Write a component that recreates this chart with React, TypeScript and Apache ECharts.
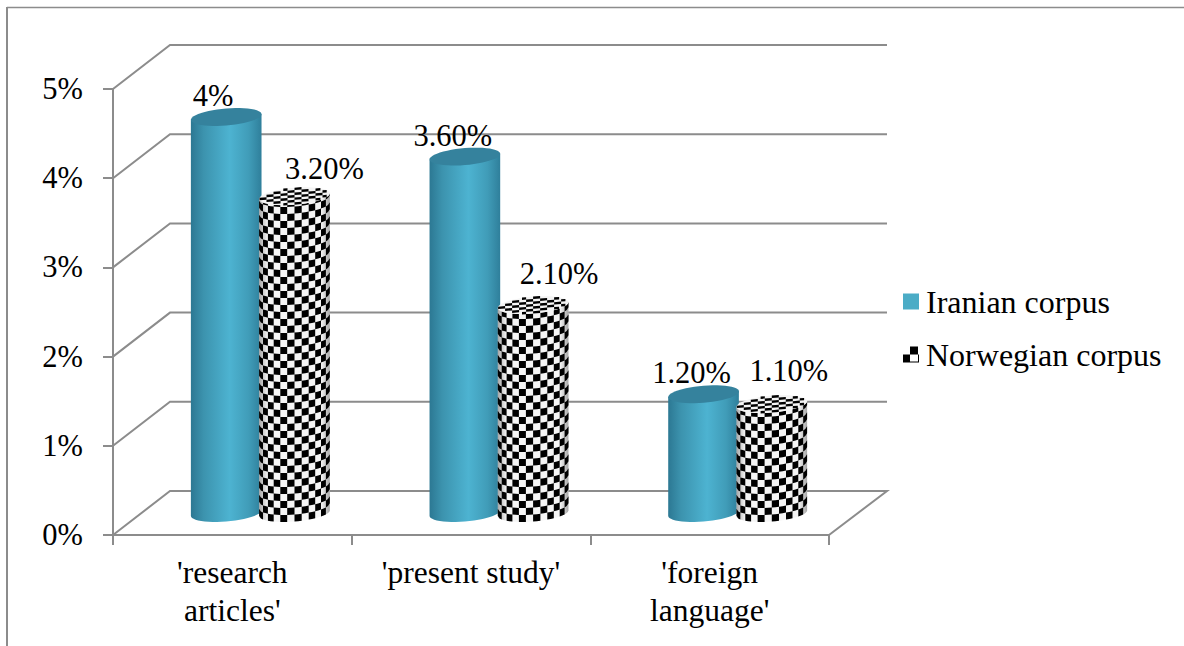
import React, { useEffect, useRef } from "react";
import * as echarts from "echarts";

const categories = ["'research\narticles'", "'present study'", "'foreign\nlanguage'"];
const iranianName = "Iranian corpus";
const norwegianName = "Norwegian corpus";
const iranianValues = [4, 3.6, 1.2];
const norwegianValues = [3.2, 2.1, 1.1];
const iranianLabels = ["4%", "3.60%", "1.20%"];
const norwegianLabels = ["3.20%", "2.10%", "1.10%"];
const wallTicks = [0, 1, 2, 3, 4, 5];

// Label anchor relative to the centre of each cylinder's top.
const iranianLabelShift = [[-13, -21], [-12, -21], [-12, -21]];
const norwegianLabelShift = [[30, -27], [26, -31], [17, -33]];

const SERIF = "'Liberation Serif', 'Times New Roman', serif";
const AXIS_GREY = "#8c8c8c";
const DEPTH_X = 57;
const DEPTH_Y = 44;

const TILT = 0.08; // the ellipses lean up towards the right
const ELLIPSE_B = 8.5;
const CHECK = 7;
const WRAP = 1.1; // how strongly the squares narrow towards the silhouette
const WRAP_COLS = 12;

const tealBody = {
  type: "linear", x: 0, y: 0, x2: 1, y2: 0,
  colorStops: [
    { offset: 0, color: "#2c7893" },
    { offset: 0.18, color: "#3c93ae" },
    { offset: 0.55, color: "#4db3d1" },
    { offset: 0.82, color: "#409cb8" },
    { offset: 1, color: "#2f7f9b" },
  ],
};

const roundShade = {
  type: "linear", x: 0, y: 0, x2: 1, y2: 0,
  colorStops: [
    { offset: 0, color: "rgba(0,0,0,0.35)" },
    { offset: 0.12, color: "rgba(0,0,0,0.04)" },
    { offset: 0.88, color: "rgba(0,0,0,0.04)" },
    { offset: 1, color: "rgba(0,0,0,0.35)" },
  ],
};

// Outline of a standing cylinder between the two ellipse centres.
function bodyPoints(cx: number, top: number, base: number, a: number) {
  const pts: number[][] = [[cx - a, top + TILT * a], [cx + a, top - TILT * a]];
  for (let i = 0; i <= 24; i++) {
    const t = (i / 24) * Math.PI;
    const dx = a * Math.cos(t);
    pts.push([cx + dx, base + ELLIPSE_B * Math.sin(t) - TILT * dx]);
  }
  return pts;
}

function ellipsePoints(cx: number, cy: number, a: number) {
  const pts: number[][] = [];
  for (let i = 0; i < 48; i++) {
    const t = (i / 48) * Math.PI * 2;
    const dx = a * Math.cos(t);
    pts.push([cx + dx, cy + ELLIPSE_B * Math.sin(t) - TILT * dx]);
  }
  return pts;
}

// Black squares wrapped round the side of the cylinder.
function checkerSide(cx: number, top: number, base: number, a: number) {
  const rows = Math.ceil((base - top) / CHECK);
  const project = (u: number, yy: number): [number, number] => {
    const dx = (a * Math.sin(u * WRAP)) / Math.sin(WRAP);
    const fall = (ELLIPSE_B * Math.sqrt(Math.max(0, 1 - (dx * dx) / (a * a))));
    return [cx + dx, yy + fall - TILT * dx];
  };
  let d = "";
  for (let r = 0; r < rows; r++) {
    const y0 = base - (r + 1) * CHECK;
    const y1 = base - r * CHECK;
    if (y1 <= top) continue;
    const yTop = Math.max(y0, top);
    for (let c = 0; c < WRAP_COLS; c++) {
      if ((r + c) % 2) continue;
      const u0 = -1 + (c * 2) / WRAP_COLS;
      const u1 = u0 + 2 / WRAP_COLS;
      const um = (u0 + u1) / 2;
      const corners = [project(u0, yTop), project(um, yTop), project(u1, yTop), project(u1, y1), project(um, y1), project(u0, y1)];
      d += "M" + corners.map((p) => p[0].toFixed(1) + " " + p[1].toFixed(1)).join("L") + "Z";
    }
  }
  return d;
}

// Foreshortened squares on the top face, clipped to its ellipse.
function checkerTop(cx: number, cy: number, a: number) {
  const rows = 7;
  const rowH = (2 * ELLIPSE_B) / rows;
  let d = "";
  for (let r = 0; r < rows; r++) {
    const y0 = cy - ELLIPSE_B + r * rowH;
    const y1 = y0 + rowH;
    const v = Math.max(Math.abs(y0 - cy), Math.abs(y1 - cy)) / ELLIPSE_B;
    const half = a * Math.sqrt(Math.max(0, 1 - v * v * 0.9));
    const first = Math.floor(-a / CHECK) - 1;
    const last = Math.ceil(a / CHECK) + 1;
    for (let c = first; c < last; c++) {
      if (((r + c) % 2 + 2) % 2) continue;
      const x0 = Math.max(c * CHECK, -half);
      const x1 = Math.min((c + 1) * CHECK, half);
      if (x1 <= x0) continue;
      const shear = (x: number) => -TILT * x;
      d += `M${(cx + x0).toFixed(1)} ${(y0 + shear(x0)).toFixed(1)}` +
        `L${(cx + x1).toFixed(1)} ${(y0 + shear(x1)).toFixed(1)}` +
        `L${(cx + x1).toFixed(1)} ${(y1 + shear(x1)).toFixed(1)}` +
        `L${(cx + x0).toFixed(1)} ${(y1 + shear(x0)).toFixed(1)}Z`;
    }
  }
  return d;
}

function labelEl(text: string, x: number, y: number) {
  return {
    type: "text",
    z2: 30,
    style: { text, x, y, font: `30.5px ${SERIF}`, fill: "#000", align: "center", verticalAlign: "middle" },
  };
}

function cylinderItem(kind: "teal" | "check", labels: string[], shifts: number[][]) {
  return (params: any, api: any) => {
    const idx = api.value(0);
    const band = api.size([1, 0])[0];
    const a = band * 0.148;
    const offset = (kind === "teal" ? -1 : 1) * band * 0.143;
    const [gx, top] = api.coord([idx, api.value(1)]);
    const [, base] = api.coord([idx, 0]);
    const cx = gx + offset;
    const children: any[] = [];
    if (kind === "teal") {
      children.push(
        { type: "polygon", shape: { points: bodyPoints(cx, top, base, a) }, style: { fill: tealBody } },
        { type: "polygon", shape: { points: ellipsePoints(cx, top, a) }, style: { fill: "#35829d" } },
      );
    } else {
      children.push(
        { type: "polygon", shape: { points: bodyPoints(cx, top, base, a) }, style: { fill: "#ffffff" } },
        { type: "path", shape: { pathData: checkerSide(cx, top, base, a) }, style: { fill: "#000" } },
        { type: "polygon", shape: { points: bodyPoints(cx, top, base, a) }, style: { fill: roundShade } },
        { type: "polygon", shape: { points: ellipsePoints(cx, top, a) }, style: { fill: "#f4f4f4" } },
        { type: "path", shape: { pathData: checkerTop(cx, top, a) }, style: { fill: "#000" } },
      );
    }
    const shift = shifts[params.dataIndex];
    children.push(labelEl(labels[params.dataIndex], cx + shift[0], top + shift[1]));
    return { type: "group", children };
  };
}

// Side wall, back wall and floor lines of the box around the plot.
function wallItem(params: any, api: any) {
  const left = params.coordSys.x;
  const right = left + params.coordSys.width;
  const tick = api.value(0);
  const y = api.coord([0, tick])[1];
  const points = [[left, y], [left + DEPTH_X, y - DEPTH_Y], [right + DEPTH_X + 1, y - DEPTH_Y]];
  if (tick === 0) points.push([right, y]);
  return {
    type: "polyline",
    shape: { points },
    style: { stroke: AXIS_GREY, lineWidth: 2, fill: "none" },
  };
}

const checkerIcon =
  "path://M7 0H15V8H7ZM0 8H7V16H0ZM7 15H16V16H7ZM15 8H16V16H15ZM0 0H0.01V0.01H0Z";

export default function App() {
  const ref = useRef<HTMLDivElement>(null);

  useEffect(() => {
    const chart = echarts.init(ref.current!, null, { renderer: "svg" });
    chart.setOption({
      animation: false,
      backgroundColor: "#ffffff",
      grid: [
        { left: 113, top: 89, width: 716, height: 446 },
        { left: 141, top: 18, width: 716, height: 495 },
      ],
      xAxis: [
        {
          type: "category",
          gridIndex: 0,
          data: categories,
          axisLine: { lineStyle: { color: AXIS_GREY, width: 2 } },
          axisTick: { show: true, length: 10, lineStyle: { color: AXIS_GREY, width: 2 } },
          axisLabel: { color: "#000", fontFamily: SERIF, fontSize: 31.5, lineHeight: 38, margin: 18, interval: 0 },
        },
        { type: "category", gridIndex: 1, data: categories, show: false },
      ],
      yAxis: [
        {
          type: "value",
          gridIndex: 0,
          min: 0,
          max: 5,
          interval: 1,
          splitLine: { show: false },
          axisLine: { show: true, lineStyle: { color: AXIS_GREY, width: 2 } },
          axisTick: { show: true, length: 10, lineStyle: { color: AXIS_GREY, width: 2 } },
          axisLabel: { color: "#000", fontFamily: SERIF, fontSize: 30.5, margin: 30, formatter: "{value}%" },
        },
        { type: "value", gridIndex: 1, min: 0, max: 5, show: false },
      ],
      legend: {
        orient: "vertical",
        left: 898,
        top: 279,
        itemWidth: 16,
        itemHeight: 16,
        itemGap: 18,
        selectedMode: false,
        textStyle: { color: "#000", fontFamily: SERIF, fontSize: 32, lineHeight: 35, padding: [0, 0, 0, 2] },
        data: [
          { name: iranianName, icon: "rect", itemStyle: { color: "#4bacc6" } },
          { name: norwegianName, icon: checkerIcon, itemStyle: { color: "#000" } },
        ],
      },
      series: [
        {
          type: "custom",
          name: "walls",
          xAxisIndex: 0,
          yAxisIndex: 0,
          z: 1,
          silent: true,
          encode: { y: 0 },
          data: wallTicks.map((t) => [t]),
          renderItem: wallItem,
        },
        {
          type: "custom",
          name: iranianName,
          xAxisIndex: 1,
          yAxisIndex: 1,
          z: 2,
          encode: { x: 0, y: 1 },
          data: iranianValues.map((v, i) => [i, v]),
          renderItem: cylinderItem("teal", iranianLabels, iranianLabelShift),
        },
        {
          type: "custom",
          name: norwegianName,
          xAxisIndex: 1,
          yAxisIndex: 1,
          z: 3,
          encode: { x: 0, y: 1 },
          data: norwegianValues.map((v, i) => [i, v]),
          renderItem: cylinderItem("check", norwegianLabels, norwegianLabelShift),
        },
      ],
      graphic: [
        { type: "line", silent: true, shape: { x1: 7, y1: 7.5, x2: 1184, y2: 7.5 }, style: { stroke: AXIS_GREY, lineWidth: 1.5 } },
        { type: "line", silent: true, shape: { x1: 7, y1: 7, x2: 7, y2: 646 }, style: { stroke: AXIS_GREY, lineWidth: 2 } },
      ],
    });
    return () => chart.dispose();
  }, []);

  return <div ref={ref} style={{ position: "fixed", left: 0, top: 0, width: 1184, height: 646 }} />;
}
